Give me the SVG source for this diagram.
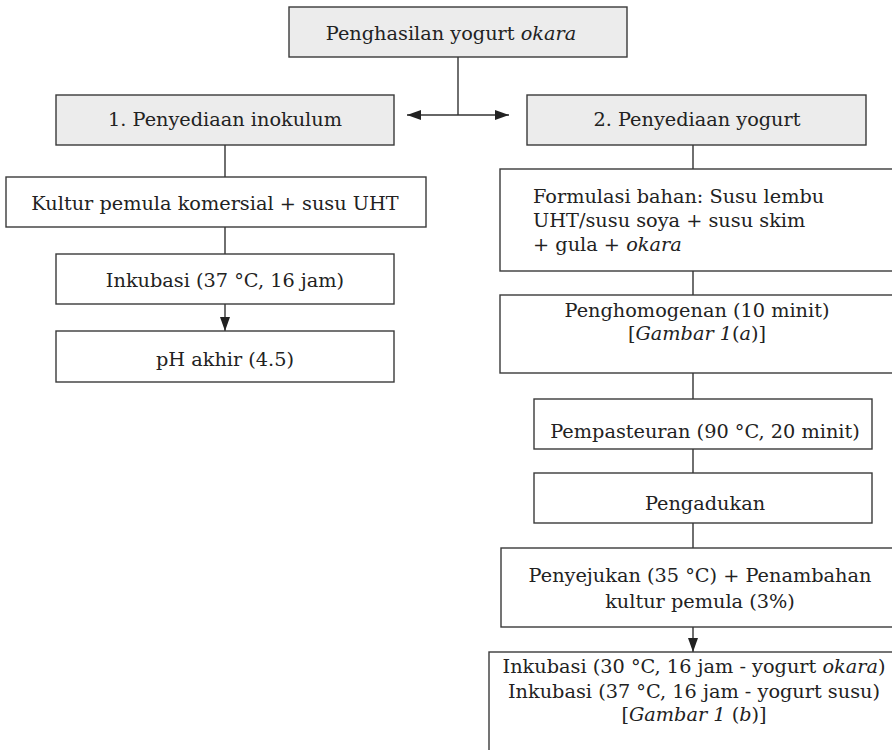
<svg xmlns="http://www.w3.org/2000/svg" width="892" height="750" viewBox="0 0 892 750">
<defs>
<style>
.box{fill:#fff;stroke:#3a3a3a;stroke-width:1.4}
.hdr{fill:#ececec;stroke:#3a3a3a;stroke-width:1.4}
.t{font-family:'DejaVu Serif','Liberation Serif',serif;font-size:19.3px;fill:#222}
.c{text-anchor:middle}
.i{font-style:italic}
.ln{stroke:#333;stroke-width:1.4;fill:none}
</style>
<marker id="ah" viewBox="0 0 14 10" refX="14" refY="5" markerWidth="14" markerHeight="10" markerUnits="userSpaceOnUse" orient="auto-start-reverse">
<path d="M0,0 L14,5 L0,10 z" fill="#222"/>
</marker>
</defs>
<rect width="892" height="750" fill="#fff"/>
<g id="connectors">
<line class="ln" x1="458" y1="57" x2="458" y2="115"/>
<line class="ln" x1="407" y1="115" x2="509" y2="115" marker-start="url(#ah)" marker-end="url(#ah)"/>
<line class="ln" x1="225" y1="145" x2="225" y2="177"/>
<line class="ln" x1="225" y1="227" x2="225" y2="254"/>
<line class="ln" x1="225" y1="304" x2="225" y2="331" marker-end="url(#ah)"/>
<line class="ln" x1="693" y1="145" x2="693" y2="169"/>
<line class="ln" x1="693" y1="271" x2="693" y2="295"/>
<line class="ln" x1="693" y1="373" x2="693" y2="399"/>
<line class="ln" x1="693" y1="449" x2="693" y2="473"/>
<line class="ln" x1="693" y1="523" x2="693" y2="548"/>
<line class="ln" x1="693" y1="627" x2="693" y2="652" marker-end="url(#ah)"/>
</g>
<g id="n-top">
<rect class="hdr" x="289" y="7" width="338" height="50"/>
<text class="t c" x="451" y="40">Penghasilan yogurt <tspan class="i">okara</tspan></text>
</g>
<g id="n-inokulum">
<rect class="hdr" x="56" y="95" width="338" height="50"/>
<text class="t c" x="225" y="126">1. Penyediaan inokulum</text>
</g>
<g id="n-kultur">
<rect class="box" x="6" y="177" width="420" height="50"/>
<text class="t c" x="215" y="210">Kultur pemula komersial + susu UHT</text>
</g>
<g id="n-inkubasi1">
<rect class="box" x="56" y="254" width="338" height="50"/>
<text class="t c" x="225" y="287">Inkubasi (37 °C, 16 jam)</text>
</g>
<g id="n-ph">
<rect class="box" x="56" y="331" width="338" height="51"/>
<text class="t c" x="225" y="366">pH akhir (4.5)</text>
</g>
<g id="n-yogurt">
<rect class="hdr" x="527" y="95" width="339" height="50"/>
<text class="t c" x="697" y="126">2. Penyediaan yogurt</text>
</g>
<g id="n-formulasi">
<rect class="box" x="500" y="169" width="420" height="102"/>
<text class="t" x="533" y="203">Formulasi bahan: Susu lembu</text>
<text class="t" x="533" y="227">UHT/susu soya + susu skim</text>
<text class="t" x="533" y="251">+ gula + <tspan class="i">okara</tspan></text>
</g>
<g id="n-homogen">
<rect class="box" x="500" y="295" width="420" height="78"/>
<text class="t c" x="697" y="317">Penghomogenan (10 minit)</text>
<text class="t c" x="697" y="340">[<tspan class="i">Gambar 1</tspan>(<tspan class="i">a</tspan>)]</text>
</g>
<g id="n-pasteur">
<rect class="box" x="534" y="399" width="338" height="50"/>
<text class="t c" x="705" y="438">Pempasteuran (90 °C, 20 minit)</text>
</g>
<g id="n-adukan">
<rect class="box" x="534" y="473" width="338" height="50"/>
<text class="t c" x="705" y="510">Pengadukan</text>
</g>
<g id="n-sejuk">
<rect class="box" x="501" y="548" width="420" height="79"/>
<text class="t c" x="700" y="582">Penyejukan (35 °C) + Penambahan</text>
<text class="t c" x="700" y="608">kultur pemula (3%)</text>
</g>
<g id="n-inkubasi2">
<rect class="box" x="489" y="652" width="430" height="120"/>
<text class="t c" x="694" y="673">Inkubasi (30 °C, 16 jam - yogurt <tspan class="i">okara</tspan>)</text>
<text class="t c" x="694" y="698">Inkubasi (37 °C, 16 jam - yogurt susu)</text>
<text class="t c" x="694" y="721">[<tspan class="i">Gambar 1</tspan> (<tspan class="i">b</tspan>)]</text>
</g>
</svg>
